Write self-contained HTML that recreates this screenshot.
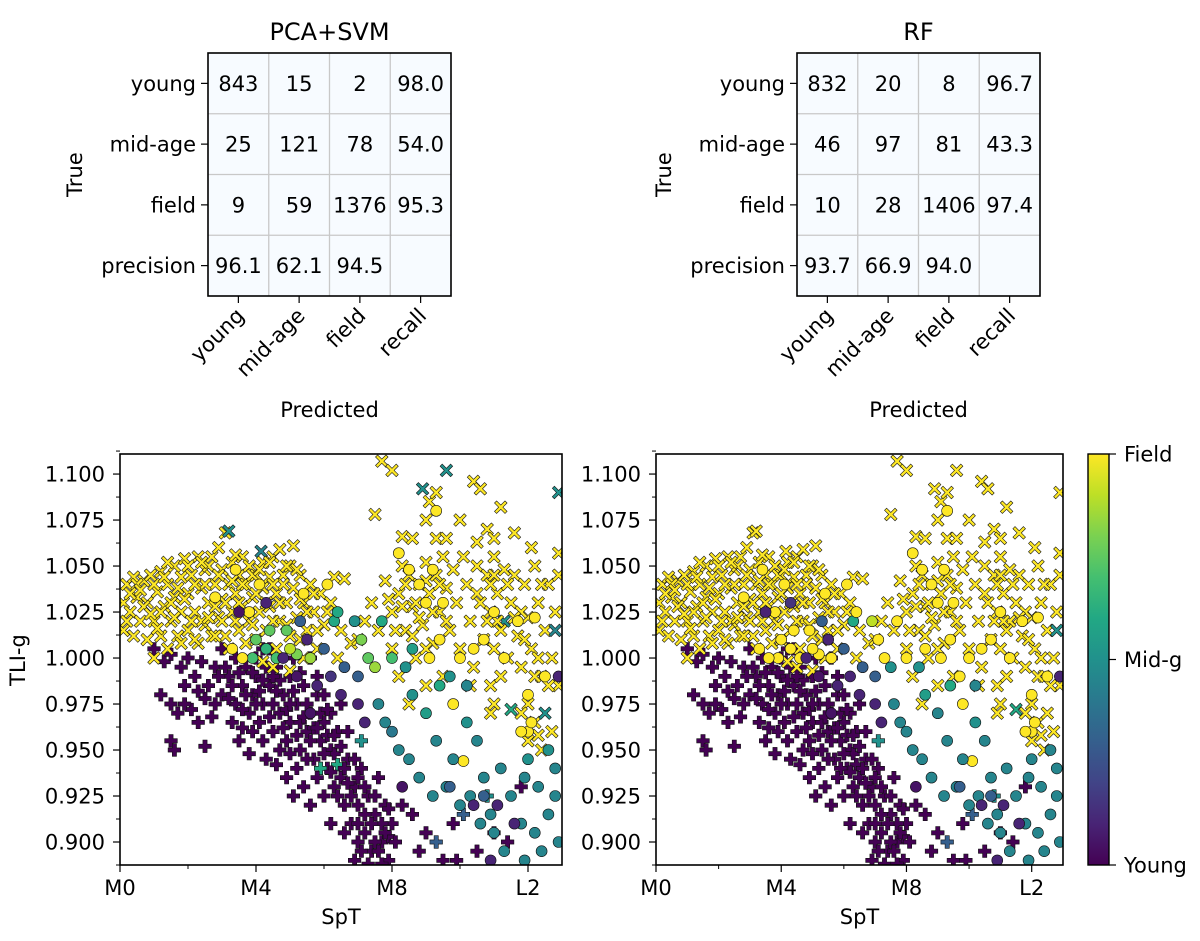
<!DOCTYPE html>
<html><head><meta charset="utf-8"><style>
html,body{margin:0;padding:0;background:#fff}
svg{display:block}
text{font-family:"DejaVu Sans","Liberation Sans",sans-serif;fill:#000}
</style></head><body>
<svg id="fig" width="1200" height="941" viewBox="0 0 1200 941" xmlns="http://www.w3.org/2000/svg"></svg>
<script>
// ---------- confusion matrix data ----------
const cmRowLabels = ["young","mid-age","field","precision"];
const cmColLabels = ["young","mid-age","field","recall"];
const svmMatrix = [["843","15","2","98.0"],["25","121","78","54.0"],["9","59","1376","95.3"],["96.1","62.1","94.5",""]];
const rfMatrix  = [["832","20","8","96.7"],["46","97","81","43.3"],["10","28","1406","97.4"],["93.7","66.9","94.0",""]];

// ---------- scatter data: [SpT (M0=0), TLI-g, SVM class score, RF class score] ----------
const xTickVals = [0,4,8,12];
const xTickLabels = ["M0","M4","M8","L2"];
const yTickVals = [0.900,0.925,0.950,0.975,1.000,1.025,1.050,1.075,1.100];
const yTickLabels = ["0.900","0.925","0.950","0.975","1.000","1.025","1.050","1.075","1.100"];
const cbarLabels = ["Young","Mid-g","Field"];

const youngPlus = [[1.0,1.005,0,0],[1.3,0.998,0,0],[1.5,1.002,0,0],[1.8,0.995,0,0],[2.0,1.0,0,0],[2.2,0.99,0,0],[2.4,0.998,0,0],[2.6,0.985,0,0],[2.8,0.995,0,0],[3.0,1.005,0,0],[3.0,0.98,0,0],[3.2,0.99,0,0],[3.4,1.0,0,0],[3.4,0.975,0,0],[3.6,0.985,0,0],[3.7,0.995,0,0],[3.8,0.97,0,0],[3.9,0.98,0,0],[4.0,0.99,0,0],[4.1,0.965,0,0],[4.2,1.005,0,0],[4.2,0.975,0,0],[4.4,0.985,0,0],[4.5,0.96,0,0],[4.6,0.995,0,0],[4.7,0.97,0,0],[4.8,0.98,0,0],[4.9,0.955,0,0],[5.0,0.99,0,0],[5.0,0.965,0,0],[5.1,1.0,0,0],[5.2,0.975,0,0],[5.3,0.95,0,0],[5.4,0.985,0,0],[5.5,0.96,0,0],[5.6,0.97,0,0],[5.7,0.945,0,0],[5.8,0.98,0,0],[5.9,0.955,0,0],[6.0,0.965,0,0],[6.1,0.94,0,0],[6.2,0.95,0,0],[6.3,0.93,0,0],[6.4,0.96,0,0],[6.5,0.935,0,0],[6.6,0.92,0,0],[6.7,0.945,0,0],[6.8,0.91,0,0],[6.9,0.93,0,0],[7.0,0.9,0,0],[7.0,0.92,0,0],[7.1,0.94,0,0],[7.2,0.905,0,0],[7.3,0.925,0,0],[7.4,0.895,0,0],[7.5,0.915,0,0],[7.6,0.935,0,0],[7.7,0.9,0,0],[7.8,0.92,0,0],[7.9,0.89,0,0],[8.0,0.91,0,0],[7.3,0.888,0,0],[6.9,0.89,0,0],[1.2,0.98,0,0],[1.5,0.975,0,0],[1.7,0.97,0,0],[1.9,0.985,0,0],[2.1,0.972,0,0],[2.3,0.965,0,0],[2.5,0.978,0,0],[2.7,0.968,0,0],[1.5,0.955,0,0],[1.6,0.95,0,0],[2.5,0.952,0,0],[3.5,0.955,0,0],[3.8,0.948,0,0],[4.3,0.945,0,0],[4.6,0.942,0,0],[4.9,0.935,0,0],[5.1,0.925,0,0],[5.4,0.93,0,0],[5.6,0.92,0,0],[8.3,0.92,0,0],[8.6,0.915,0,0],[9.0,0.905,0,0],[9.3,0.9,0.3,0.3],[9.8,0.91,0,0],[8.8,0.895,0,0],[9.5,0.89,0,0],[10.1,0.915,0.3,0.3],[10.5,0.895,0,0],[11.0,0.905,0,0],[11.4,0.9,0,0],[11.8,0.93,0,0],[10.8,0.925,0.5,0.5],[9.9,0.89,0,0],[3.1,0.995,0,0],[3.3,0.985,0,0],[3.6,0.972,0,0],[3.9,0.992,0,0],[4.1,0.982,0,0],[4.3,0.995,0,0],[4.5,0.975,0,0],[4.7,0.988,0,0],[4.9,0.972,0,0],[5.1,0.982,0,0],[5.3,0.965,0,0],[5.5,0.975,0,0],[5.7,0.962,0,0],[5.9,0.97,0,0],[6.1,0.958,0,0],[6.3,0.948,0,0],[6.5,0.952,0,0],[6.7,0.932,0,0],[7.0,0.935,0,0],[7.2,0.915,0,0],[7.5,0.9,0,0],[7.7,0.91,0,0],[7.9,0.903,0,0],[6.6,0.905,0,0],[6.2,0.91,0,0],[4.0,1.0,0,0],[4.4,1.005,0,0],[5.6,1.0,0,0],[5.8,0.99,0,0],[6.0,0.98,0,0],[6.2,0.97,0,0],[6.5,0.975,0,0],[5.9,0.94,0.6,0],[7.1,0.955,0.5,0.5],[6.4,0.942,0.6,0],
[2.9,0.99,0,0],[3.2,0.978,0,0],[3.5,0.992,0,0],[3.7,0.98,0,0],[4.0,0.975,0,0],[4.2,0.988,0,0],[4.4,0.968,0,0],[4.6,0.982,0,0],[4.8,0.962,0,0],[5.0,0.975,0,0],[5.2,0.958,0,0],[5.4,0.968,0,0],[5.6,0.955,0,0],[5.8,0.962,0,0],[6.0,0.948,0,0],[6.2,0.938,0,0],[6.4,0.925,0,0],[6.6,0.94,0,0],[6.8,0.925,0,0],[7.0,0.91,0,0],[7.2,0.93,0,0],[7.4,0.91,0,0],[7.6,0.895,0,0],[7.8,0.905,0,0],[7.1,0.895,0,0],[7.5,0.925,0,0],[6.9,0.945,0,0],[6.3,0.958,0,0],[5.5,0.945,0,0],[5.8,0.935,0,0],[6.0,0.925,0,0],[4.5,0.99,0,0],[5.3,0.992,0,0],[3.3,0.965,0,0],[2.8,0.975,0,0],[2.3,0.982,0,0],[1.9,0.975,0,0],[3.9,0.96,0,0],[4.7,0.95,0,0],[5.2,0.94,0,0],[7.9,0.918,0,0],[8.1,0.9,0,0],[7.7,0.888,0,0],[6.7,0.96,0,0],[6.1,0.972,0,0],[5.0,0.948,0,0],[4.2,0.955,0,0],[3.6,0.962,0,0]];

const fieldX = [[0.1,1.03,1,1],[0.1,1.015,1,1],[0.2,1.04,1,1],[0.3,1.025,1,1],[0.4,1.044,1,1],[0.5,1.033,1,1],[0.6,1.02,1,1],[0.7,1.042,1,1],[0.8,1.01,1,1],[0.8,1.03,1,1],[0.9,1.045,1,1],[1.0,1.02,1,1],[1.0,1.0,1,1],[1.1,1.036,1,1],[1.2,1.047,1,1],[1.2,1.012,1,1],[1.3,1.028,1,1],[1.4,1.04,1,1],[1.4,1.005,1,1],[1.5,1.02,1,1],[1.6,1.05,1,1],[1.6,1.033,1,1],[1.7,1.012,1,1],[1.8,1.044,1,1],[1.8,1.025,1,1],[1.9,1.054,1,1],[2.0,1.035,1,1],[2.0,1.015,1,1],[2.1,1.045,1,1],[2.2,1.025,1,1],[2.3,1.055,1,1],[2.3,1.008,1,1],[2.4,1.038,1,1],[2.5,1.018,1,1],[2.5,1.048,1,1],[2.6,1.03,1,1],[2.7,1.055,1,1],[2.7,1.012,1,1],[2.8,1.04,1,1],[2.9,1.022,1,1],[2.9,1.06,1,1],[3.0,1.048,1,1],[3.0,1.032,1,1],[3.1,1.068,1,1],[3.1,1.012,1,1],[3.2,1.04,1,1],[3.3,1.025,1,1],[3.3,1.052,1,1],[3.4,1.035,1,1],[3.5,1.045,1,1],[3.5,1.015,1,1],[3.6,1.055,1,1],[3.6,1.028,1,1],[3.7,1.04,1,1],[3.8,1.02,1,1],[3.8,1.05,1,1],[3.9,1.033,1,1],[4.0,1.045,1,1],[4.0,1.01,1,1],[4.1,1.025,1,1],[4.2,1.052,1,1],[4.2,1.038,1,1],[4.3,1.015,1,1],[4.4,1.044,1,1],[4.4,1.028,1,1],[4.5,1.055,1,1],[4.6,1.035,1,1],[4.6,1.005,1,1],[4.7,1.059,1,1],[4.7,1.02,1,1],[4.8,1.045,1,1],[4.9,1.03,1,1],[5.0,1.05,1,1],[5.0,1.012,1,1],[5.1,1.061,1,1],[5.1,1.038,1,1],[5.2,1.022,1,1],[5.3,1.045,1,1],[5.4,1.0,1,1],[5.4,1.03,1,1],[5.5,1.015,1,1],[5.6,1.04,1,1],[5.7,1.025,1,1],[5.8,1.005,1,1],[5.9,1.035,1,1],[6.0,1.018,1,1],[6.2,1.03,1,1],[6.3,1.044,1,1],[6.4,1.0,1,1],[6.6,1.043,1,1],[6.5,1.015,1,1],[6.8,1.008,1,1],[7.0,1.01,1,1],[4.2,0.998,1,1],[4.5,0.995,1,1],[5.0,0.993,1,1],[0.5,1.04,1,1],[1.0,1.04,1,1],[1.5,1.03,1,1],[2.0,1.05,1,1],[2.5,1.04,1,1],[3.0,1.02,1,1],[3.5,1.03,1,1],[4.0,1.035,1,1],[4.5,1.02,1,1],[1.2,1.025,1,1],[2.2,1.01,1,1],[3.7,1.008,1,1],[2.8,1.028,1,1],[1.7,1.038,1,1],[3.3,1.042,1,1],[4.8,1.04,1,1],[5.3,1.01,1,1],[0.3,1.035,1,1],[0.7,1.028,1,1],[2.4,1.02,1,1],[3.2,1.069,0.5,1],[4.15,1.058,0.45,1],
[0.2,1.02,1,1],[0.6,1.037,1,1],[0.9,1.024,1,1],[1.1,1.016,1,1],[1.3,1.044,1,1],[1.6,1.022,1,1],[1.9,1.032,1,1],[2.1,1.02,1,1],[2.2,1.04,1,1],[2.6,1.05,1,1],[2.6,1.022,1,1],[2.9,1.045,1,1],[3.1,1.03,1,1],[3.4,1.02,1,1],[3.6,1.04,1,1],[3.9,1.045,1,1],[3.9,1.018,1,1],[4.1,1.048,1,1],[4.3,1.03,1,1],[4.5,1.04,1,1],[4.7,1.03,1,1],[4.9,1.05,1,1],[4.9,1.018,1,1],[5.2,1.048,1,1],[5.3,1.032,1,1],[5.5,1.025,1,1],[5.7,1.035,1,1],[5.8,1.015,1,1],[6.1,1.025,1,1],[1.4,1.052,1,1],[2.4,1.052,1,1],[3.4,1.056,1,1],[4.4,1.052,1,1],[0.4,1.012,1,1],[1.8,1.008,1,1],[2.8,1.012,1,1],[3.2,1.005,1,1],
[7.7,1.107,1,1],[8.0,1.102,1,1],[9.6,1.102,0.5,1],[10.4,1.096,1,1],[10.6,1.092,1,1],[8.9,1.092,0.5,1],[9.1,1.085,1,1],[9.3,1.09,1,1],[11.2,1.082,1,1],[12.9,1.09,0.5,1],[7.5,1.078,1,1],[9.0,1.075,1,1],[10.0,1.075,1,1],[10.8,1.07,1,1],[11.0,1.065,1,1],[11.6,1.068,1,1],[8.3,1.066,1,1],[8.6,1.065,1,1],[9.3,1.065,1,1],[9.6,1.065,1,1],[12.1,1.06,1,1],[12.9,1.057,1,1],[10.5,1.063,1,1],[7.2,1.02,1,1],[7.4,1.03,1,1],[7.6,1.015,1,1],[7.8,1.042,1,1],[8.0,1.025,1,1],[8.0,1.005,1,1],[8.2,1.035,1,1],[8.3,1.05,1,1],[8.4,1.015,1,1],[8.5,1.045,1,1],[8.6,1.028,1,1],[8.7,1.0,1,1],[8.8,1.04,1,1],[8.9,1.018,1,1],[9.0,1.052,1,1],[9.1,1.035,1,1],[9.2,1.008,1,1],[9.3,1.045,1,1],[9.4,1.025,1,1],[9.5,1.055,1,1],[9.5,0.99,1,1],[9.6,1.038,1,1],[9.7,1.015,1,1],[9.8,1.048,1,1],[9.9,1.03,1,1],[10.0,1.005,1,1],[10.1,1.055,1,1],[10.2,1.04,1,1],[10.3,1.02,1,1],[10.4,0.995,1,1],[10.5,1.05,1,1],[10.6,1.03,1,1],[10.7,1.01,1,1],[10.8,1.045,1,1],[10.9,1.025,1,1],[10.9,0.985,1,1],[11.0,1.055,1,1],[11.1,1.035,1,1],[11.2,1.015,1,1],[11.3,1.048,1,1],[11.4,1.0,1,1],[11.5,1.03,1,1],[11.6,1.045,1,1],[11.7,1.012,1,1],[11.8,0.995,1,1],[11.9,1.04,1,1],[12.0,1.022,1,1],[12.1,1.005,1,1],[12.2,1.05,1,1],[12.3,1.03,1,1],[12.4,0.99,1,1],[12.5,1.015,1,1],[12.6,1.04,1,1],[12.7,1.0,1,1],[12.8,1.025,1,1],[12.9,0.985,1,1],[12.9,1.045,1,1],[12.0,0.975,1,1],[11.8,0.97,1,1],[12.2,0.965,1,1],[12.5,0.97,0.5,1],[12.7,0.96,1,1],[12.4,0.95,1,1],[9.0,0.985,1,1],[8.5,0.975,1,1],[10.3,0.985,1,1],[11.0,0.975,1,1],[10.9,0.97,1,1],[8.7,1.03,1,1],[10.5,1.035,1,1],[11.8,1.025,1,1],[12.4,1.04,1,1],[11.3,1.02,0.5,1],[12.8,1.015,0.45,0.5],[11.5,0.972,0.6,0.6],
[8.1,1.015,1,1],[8.3,1.028,1,1],[8.6,1.012,1,1],[8.8,1.022,1,1],[9.0,1.042,1,1],[9.0,1.005,1,1],[9.2,1.025,1,1],[9.4,1.04,1,1],[9.6,1.02,1,1],[8.4,1.04,1,1],[8.2,0.99,1,1],[10.9,1.04,1,1],[11.1,1.02,1,1],[11.0,1.005,1,1],[11.2,0.99,1,1],[11.4,1.04,1,1],[11.6,1.022,1,1],[11.9,1.01,1,1],[12.2,0.99,1,1],[12.6,0.985,1,1],[12.3,1.0,1,1],[10.8,1.02,1,1],[11.0,1.045,1,1],[12.0,0.955,1,1],[12.3,0.958,1,1],[7.9,1.032,1,1]];

const midCircle = [[2.8,1.033,1,1],[3.4,1.048,1,1],[3.8,1.025,1,1],[4.4,1.015,0.75,1],[5.2,1.002,0.8,1],[5.6,1.0,0.85,1],[5.0,1.005,0.9,1],[6.1,1.04,1,1],[8.5,1.048,1,1],[8.2,1.057,1,1],[8.8,1.04,1,1],[9.0,1.03,1,1],[9.2,1.048,1,1],[9.4,1.01,1,1],[9.5,1.03,1,1],[10.0,1.0,1,1],[10.4,1.005,1,1],[10.7,1.01,1,1],[11.0,1.025,1,1],[11.3,1.0,1,1],[11.7,1.02,1,1],[12.2,1.022,1,1],[12.5,0.99,1,1],[9.3,1.08,1,1],[7.7,1.02,0.6,1],[8.0,1.0,0.7,1],[8.6,1.005,0.55,1],[8.4,0.995,0.5,0.5],[9.8,0.975,1,1],[12.0,0.98,1,1],[12.0,0.96,1,1],[12.1,0.965,1,1],[10.1,0.944,1,1],[7.1,1.01,0.8,1],[7.5,0.995,0.85,0.5],
[4.6,1.0,0.7,1],[4.0,1.01,0.75,1],[3.9,1.0,0.7,1],[4.3,1.005,0.65,1],[6.3,1.02,0.6,0.6],
[8.2,0.95,0.45,0.45],[8.5,0.945,0.45,0.45],[9.0,0.97,0.55,0.45],[9.3,0.955,0.45,0.45],[9.6,0.93,0.45,0.45],[9.8,0.945,0.45,0.45],[10.2,0.965,0.5,0.5],[10.5,0.955,0.45,0.45],[10.7,0.935,0.45,0.45],[10.9,0.915,0.45,0.45],[11.2,0.94,0.45,0.45],[11.5,0.925,0.45,0.45],[11.8,0.91,0.45,0.45],[12.0,0.945,0.5,0.45],[12.3,0.93,0.45,0.45],[12.6,0.915,0.45,0.45],[12.8,0.94,0.45,0.45],[12.9,0.9,0.45,0.45],[12.4,0.895,0.45,0.45],[11.9,0.89,0.45,0.45],[11.3,0.895,0.45,0.45],[10.6,0.91,0.45,0.45],[10.0,0.92,0.45,0.45],[9.2,0.925,0.45,0.45],[8.8,0.935,0.45,0.45],[8.0,0.96,0.4,0.45],[7.6,0.975,0.45,0.45],[7.8,0.965,0.45,0.45],[8.6,0.98,0.5,0.55],[9.4,0.985,0.6,0.6],[12.6,0.95,0.5,0.45],[12.8,0.925,0.45,0.45],[12.2,0.905,0.45,0.45],[11.0,0.905,0.45,0.45],[10.3,0.925,0.45,0.45],
[4.8,1.0,0.1,0.1],[5.2,0.99,0.05,0.05],[5.5,1.01,0.1,0.1],[5.8,0.985,0.1,0.1],[6.2,0.99,0.15,0.1],[6.5,0.98,0.1,0.1],[7.0,0.975,0.1,0.1],[7.2,0.965,0.1,0.1],[8.3,0.93,0.05,0.05],[10.4,0.92,0.1,0.1],[11.1,0.92,0.1,0.1],[11.6,0.91,0.1,0.1],[10.9,0.89,0.1,0.1],[12.9,0.99,0.1,0.1],[5.6,0.97,0.05,0.05],[3.5,1.025,0.05,0.1],[4.3,1.03,0.1,0.15],
[5.3,1.02,0.3,0.3],[6.0,1.005,0.3,0.3],[7.0,0.99,0.3,0.3],[6.6,0.995,0.3,0.3],[9.7,0.93,0.3,0.3],[10.7,0.925,0.3,0.3],
[3.3,1.005,1,1],[3.6,1.0,1,1],[4.1,1.04,1,1],[4.9,1.015,0.75,1],[5.4,1.035,1,1],[6.4,1.025,0.6,1],[6.9,1.02,0.5,0.9],[7.3,1.0,0.75,1],[9.1,1.0,1,1],[9.7,0.99,0.5,1],[10.2,0.985,0.45,0.45],[11.8,0.96,1,1],[11.9,0.935,0.45,0.45]];

const NS = "http://www.w3.org/2000/svg";
const svg = document.getElementById("fig");
function el(tag, attrs, parent){
  const e = document.createElementNS(NS, tag);
  for (const k in attrs) e.setAttribute(k, attrs[k]);
  (parent||svg).appendChild(e);
  return e;
}
function txt(s, attrs, parent){ const t = el("text", attrs, parent); t.textContent = s; return t; }

const VIR = ["#440154","#482475","#414487","#355f8d","#2a788e","#21918c","#22a884","#44bf70","#7ad151","#bddf26","#fde725"];
function hex2rgb(h){return [parseInt(h.substr(1,2),16),parseInt(h.substr(3,2),16),parseInt(h.substr(5,2),16)];}
function viridis(v){
  v = Math.max(0,Math.min(1,v)); const f = v*10, i = Math.min(9,Math.floor(f)), t = f-i;
  const a = hex2rgb(VIR[i]), b = hex2rgb(VIR[i+1]);
  return "rgb("+a.map((c,k)=>Math.round(c+(b[k]-c)*t)).join(",")+")";
}
const FS = 21;

// ---------- confusion matrices ----------
function drawMatrix(x0, title, mat, nameKey){
  const y0 = 53, cw = 60.75, ch = 60.75;
  const g = el("g", {});
  
  
  el("rect", {x:x0, y:y0, width:cw*4, height:ch*4, fill:"#f7fbff"}, g);
  for (let i=1;i<4;i++){
    el("line",{x1:x0+i*cw,y1:y0,x2:x0+i*cw,y2:y0+4*ch,stroke:"#c8c8c8","stroke-width":1.3},g);
    el("line",{x1:x0,y1:y0+i*ch,x2:x0+4*cw,y2:y0+i*ch,stroke:"#c8c8c8","stroke-width":1.3},g);
  }
  el("rect",{x:x0,y:y0,width:cw*4,height:ch*4,fill:"none",stroke:"#000","stroke-width":1.6},g);
  const tt = txt(title,{x:x0+2*cw,y:40,"text-anchor":"middle","font-size":24},g);
  
  
  for (let r=0;r<4;r++){
    const cy = y0+(r+0.5)*ch;
    el("line",{x1:x0-7,y1:cy,x2:x0,y2:cy,stroke:"#000","stroke-width":1.2},g);
    const rl = txt(cmRowLabels[r],{x:x0-12,y:cy+7.5,"text-anchor":"end","font-size":FS},g);
    
    
    for (let c=0;c<4;c++){
      if (mat[r][c]==="") continue;
      const ct = txt(mat[r][c],{x:x0+(c+0.5)*cw,y:cy+7.5,"text-anchor":"middle","font-size":FS},g);
      
      
    }
  }
  for (let c=0;c<4;c++){
    const cx = x0+(c+0.5)*cw, by = y0+4*ch;
    el("line",{x1:cx,y1:by,x2:cx,y2:by+7,stroke:"#000","stroke-width":1.2},g);
    const cl = txt(cmColLabels[c],{x:cx+7,y:by+21,"text-anchor":"end","font-size":FS,transform:"rotate(-45 "+(cx+7)+" "+(by+21)+")"},g);
    
    
  }
  const xl = txt("Predicted",{x:x0+2*cw,y:417,"text-anchor":"middle","font-size":FS},g);
  
  
  const yl = txt("True",{x:x0-133,y:y0+2*ch+7,"text-anchor":"middle","font-size":FS,transform:"rotate(-90 "+(x0-133)+" "+(y0+2*ch)+")"},g);
  
  
}
drawMatrix(208, "PCA+SVM", svmMatrix, "svm");
drawMatrix(797, "RF", rfMatrix, "rf");

// ---------- scatter panels ----------
const yTop = 454, yBot = 865, yMax = 1.1109, yMin = 0.8875;
function yScale(v){ return yTop + (yMax - v)/(yMax - yMin)*(yBot - yTop); }

const plusPts = [[-1,-3],[1,-3],[1,-1],[3,-1],[3,1],[1,1],[1,3],[-1,3],[-1,1],[-3,1],[-3,-1],[-1,-1]];
const xPts = [[-3,-2],[-2,-3],[0,-1],[2,-3],[3,-2],[1,0],[3,2],[2,3],[0,1],[-2,3],[-3,2],[-1,0]];
function markerPath(kind, cx, cy){
  const s = 6.3/3, pts = kind==="plus" ? plusPts : xPts;
  return "M" + pts.map(p=>(cx+p[0]*s).toFixed(1)+","+(cy+p[1]*s).toFixed(1)).join("L") + "Z";
}

function drawScatter(x0, x1, idx, nameKey, showYLabel){
  const xMin = 0, xMax = 13;
  const xScale = v => x0 + (v - xMin)/(xMax - xMin)*(x1 - x0);
  const g = el("g", {});
  
  
  const cid = "clip-"+nameKey;
  const cp = el("clipPath",{id:cid},g);
  el("rect",{x:x0,y:yTop,width:x1-x0,height:yBot-yTop},cp);
  const pg = el("g",{"clip-path":"url(#"+cid+")"},g);
  youngPlus.forEach(p=>{
    const m = el("path",{d:markerPath("plus",xScale(p[0]),yScale(p[1])),fill:viridis(p[idx]),stroke:"#111","stroke-width":0.6},pg);
    
    
  });
  fieldX.forEach(p=>{
    const m = el("path",{d:markerPath("x",xScale(p[0]),yScale(p[1])),fill:viridis(p[idx]),stroke:"#111","stroke-width":0.6},pg);
    
    
  });
  midCircle.forEach(p=>{
    const m = el("circle",{cx:xScale(p[0]),cy:yScale(p[1]),r:5.5,fill:viridis(p[idx]),stroke:"#111","stroke-width":0.6},pg);
    
    
  });
  el("rect",{x:x0,y:yTop,width:x1-x0,height:yBot-yTop,fill:"none",stroke:"#000","stroke-width":1.6},g);
  xTickVals.forEach((v,i)=>{
    const x = xScale(v);
    el("line",{x1:x,y1:yBot,x2:x,y2:yBot+7,stroke:"#000","stroke-width":1.2},g);
    const t = txt(xTickLabels[i],{x:x,y:yBot+30,"text-anchor":"middle","font-size":FS},g);
    
    
  });
  for (let v=2; v<13; v+=4){
    const x = xScale(v);
    el("line",{x1:x,y1:yBot,x2:x,y2:yBot+4,stroke:"#000","stroke-width":1},g);
  }
  yTickVals.forEach((v,i)=>{
    const y = yScale(v);
    el("line",{x1:x0-7,y1:y,x2:x0,y2:y,stroke:"#000","stroke-width":1.2},g);
    el("line",{x1:x0-4,y1:y+23,x2:x0,y2:y+23,stroke:"#000","stroke-width":1},g);
    const t = txt(yTickLabels[i],{x:x0-15,y:y+7.5,"text-anchor":"end","font-size":FS},g);
    
    
  });
  el("line",{x1:x0-4,y1:yScale(1.1125),x2:x0,y2:yScale(1.1125),stroke:"#000","stroke-width":1},g);
  const xt = txt("SpT",{x:(x0+x1)/2,y:924,"text-anchor":"middle","font-size":FS},g);
  
  
  if (showYLabel){
    const yt = txt("TLI-g",{x:25,y:660,"text-anchor":"middle","font-size":FS,transform:"rotate(-90 25 660)"},g);
    
    
  }
}
drawScatter(120, 562, 2, "svm", true);
drawScatter(656, 1063, 3, "rf", false);

// ---------- colorbar ----------
const defs = el("defs",{});
const lg = el("linearGradient",{id:"vir",x1:0,y1:1,x2:0,y2:0},defs);
VIR.forEach((c,i)=>el("stop",{offset:(i*10)+"%","stop-color":c},lg));
const cb = el("rect",{x:1088,y:yTop,width:21,height:yBot-yTop,fill:"url(#vir)",stroke:"#000","stroke-width":1.4});


cbarLabels.forEach((s,i)=>{
  const y = yBot - i*(yBot-yTop)/2;
  el("line",{x1:1109,y1:y,x2:1116,y2:y,stroke:"#000","stroke-width":1.2});
  const t = txt(s,{x:1124,y:y+7.5,"font-size":FS});
  
  
});
</script>
</body></html>
